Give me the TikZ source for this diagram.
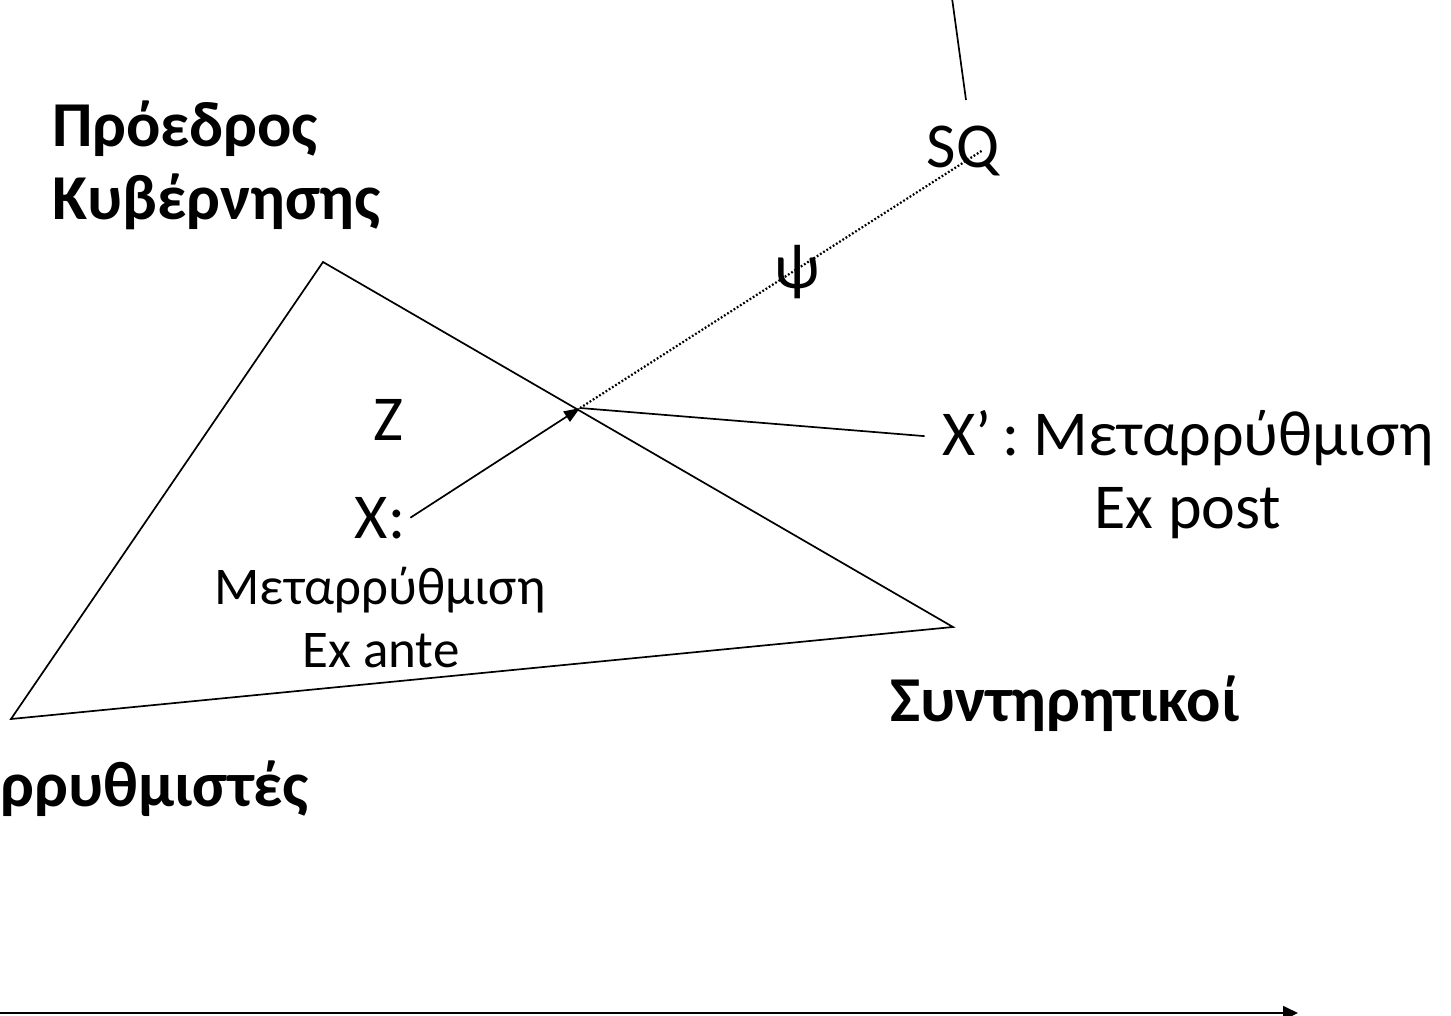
\documentclass[tikz,border=0pt]{standalone}
\usepackage{fontspec}
\setmainfont{Carlito}
\usetikzlibrary{arrows.meta}
\tikzset{
  lbl/.style={inner sep=0pt, anchor=base, font=\fontsize{64}{70}\selectfont},
  small/.style={inner sep=0pt, anchor=base, font=\fontsize{53}{60}\selectfont},
  boldlbl/.style={inner sep=0pt, font=\fontsize{64}{73}\selectfont\bfseries},
  edge/.style={line width=1.7pt},
  dots/.style={line width=2.2pt, dash pattern=on 1.8pt off 2.0pt},
}
\begin{document}
\begin{tikzpicture}[x=1pt,y=-1pt]
\useasboundingbox (0,0) rectangle (1451,1016);
% triangle vertices
\coordinate (T) at (323,262);
\coordinate (L) at (11,719);
\coordinate (R) at (953,627);
\coordinate (P) at (580,408);
\coordinate (sqpt) at (983,150);
\coordinate (topA) at (952,-2);
\coordinate (topB) at (966,100);
\coordinate (axA) at (-2,1013);
\coordinate (axB) at (1298,1013);

\draw[edge, line join=miter] (T) -- (R) -- (L) -- cycle;

% labels
\node[boldlbl, anchor=base west, align=left] (pres) at (52,220) {Πρόεδρος\\Κυβέρνησης};
\node[boldlbl, anchor=base east] (reform) at (309,806) {ρρυθμιστές};
\node[boldlbl, anchor=base] (cons) at (1065,721) {Συντηρητικοί};

\node[lbl] (sq) at (963,168) {SQ};
\node[lbl] (psi) at (797,289) {ψ};
\node[lbl] (z) at (388,440) {Z};
\node[lbl, inner sep=5pt] (x) at (380,538) {X:};
\node[small] (xm) at (380,604) {Μεταρρύθμιση};
\node[small] (xa) at (381,667) {Ex ante};
\node[lbl] (xp) at (1188,455) {X’\,: Μεταρρύθμιση};
\node[lbl] (xpe) at (1188,528) {Ex post};

% connectors
\draw[edge, -{Triangle[length=16pt,width=12pt]}] (x.east) -- (P);
\draw[dots] (P) -- (sqpt);
\draw[edge, shorten >=18pt] (P) -- (xp.west);
\draw[edge] (topA) -- (topB);
\draw[edge, -{Triangle[length=15pt,width=14pt]}] (axA) -- (axB);
\end{tikzpicture}
\end{document}
